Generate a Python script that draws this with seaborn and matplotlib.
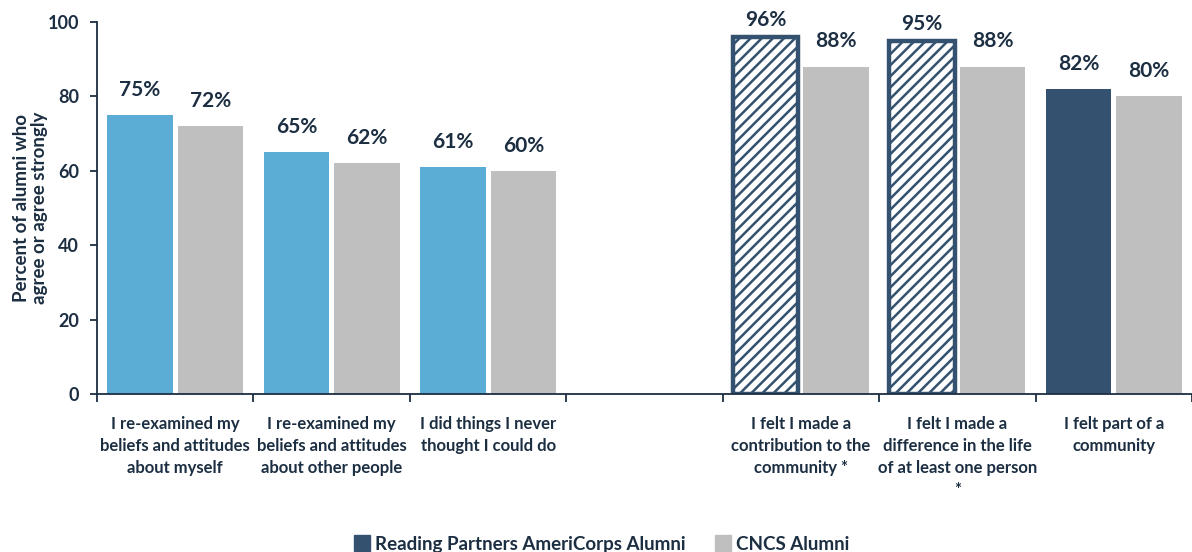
import numpy as np
import pandas as pd
import matplotlib
matplotlib.use("Agg")
import matplotlib.pyplot as plt
import seaborn as sns
from matplotlib.lines import Line2D

# ---- data ----
categories = [
    "I re-examined my\nbeliefs and attitudes\nabout myself",
    "I re-examined my\nbeliefs and attitudes\nabout other people",
    "I did things I never\nthought I could do",
    " ",
    "I felt I made a\ncontribution to the\ncommunity *",
    "I felt I made a\ndifference in the life\nof at least one person\n*",
    "I felt part of a\ncommunity",
]
rp_values = [75, 65, 61, None, 96, 95, 82]
cncs_values = [72, 62, 60, None, 88, 88, 80]
series = ["Reading Partners AmeriCorps Alumni", "CNCS Alumni"]
y_ticks = [0, 20, 40, 60, 80, 100]

# ---- style ----
NAVY = "#34526f"
LIGHT_BLUE = "#5badd6"
GREY = "#bfbfbf"
TEXT = "#1c2e42"
bar_colors = [LIGHT_BLUE, LIGHT_BLUE, LIGHT_BLUE, None, NAVY, NAVY, NAVY]
hatched = [False, False, False, False, True, True, False]

sns.set_theme(style="white")
plt.rcParams["font.family"] = ["Lato", "DejaVu Sans"]
plt.rcParams["font.weight"] = "bold"
plt.rcParams["hatch.linewidth"] = 1.8
plt.rcParams["hatch.color"] = NAVY

rows = []
for cat, a, b in zip(categories, rp_values, cncs_values):
    if a is None:
        continue
    rows.append({"category": cat, "group": series[0], "value": a})
    rows.append({"category": cat, "group": series[1], "value": b})
df = pd.DataFrame(rows)

fig = plt.figure(figsize=(11.92, 5.52), dpi=100)
ax = fig.add_axes([97 / 1192, 1 - 394 / 552, 1 - 97 / 1192, (394 - 22) / 552])

sns.barplot(data=df, x="category", y="value", hue="group", order=categories,
            hue_order=series, palette=[NAVY, GREY], width=0.9, gap=0.07,
            errorbar=None, ax=ax, legend=False, linewidth=0)

# recolor the Reading Partners bars per category, add labels
for k, cont in enumerate(ax.containers):
    vals = rp_values if k == 0 else cncs_values
    for bar in cont:
        idx = int(round(bar.get_x() + bar.get_width() / 2))
        v = vals[idx]
        pad = 11
        if k == 0:
            bar.set_facecolor(bar_colors[idx])
            if hatched[idx]:
                bar.set_facecolor("white")
                bar.set_edgecolor(NAVY)
                bar.set_hatch("///")
                bar.set_linewidth(3.2)
                pad = 5
        ax.annotate(f"{v}%", (bar.get_x() + bar.get_width() / 2, bar.get_height()),
                    xytext=(0, pad), textcoords="offset points", ha="center",
                    va="bottom", fontsize=15, fontweight="bold", color=TEXT)

ax.set_xlim(-0.5, 6.5 - 11 / 158)
ax.set_ylim(0, 100)
ax.set_yticks(y_ticks)
ax.set_yticklabels([str(t) for t in y_ticks], fontsize=13, fontweight="bold", color=TEXT)

ax.set_xticks(range(len(categories)))
ax.set_xticklabels(categories, fontsize=12, fontweight="bold", color=TEXT,
                   linespacing=1.45, va="top")
ax.tick_params(axis="x", which="major", length=0, pad=16)
ax.set_xticks(np.arange(-0.5, 7, 1), minor=True)
ax.tick_params(axis="x", which="minor", length=6, width=1.3, color=TEXT, direction="out", bottom=True)
ax.tick_params(axis="y", length=5, width=1.3, color=TEXT, direction="out", left=True, pad=8)

ax.set_xlabel("")
ax.set_ylabel("Percent of alumni who\nagree or agree strongly", fontsize=13.5,
              fontweight="bold", color=TEXT, linespacing=1.05)
ax.yaxis.set_label_coords(-0.045, 0.5)

sns.despine(ax=ax)
for side in ["left", "bottom"]:
    ax.spines[side].set_color(TEXT)
    ax.spines[side].set_linewidth(1.3)

handles = [Line2D([], [], marker="s", linestyle="", markersize=11, color=NAVY),
           Line2D([], [], marker="s", linestyle="", markersize=11, color=GREY)]
fig.legend(handles, series, loc="lower center", bbox_to_anchor=(0.505, -0.032), ncol=2,
           frameon=False, handlelength=0.8, handletextpad=0.3, columnspacing=1.6,
           prop={"size": 13.5, "weight": "bold"}, labelcolor=TEXT)

fig.savefig("out.png", dpi=100)
